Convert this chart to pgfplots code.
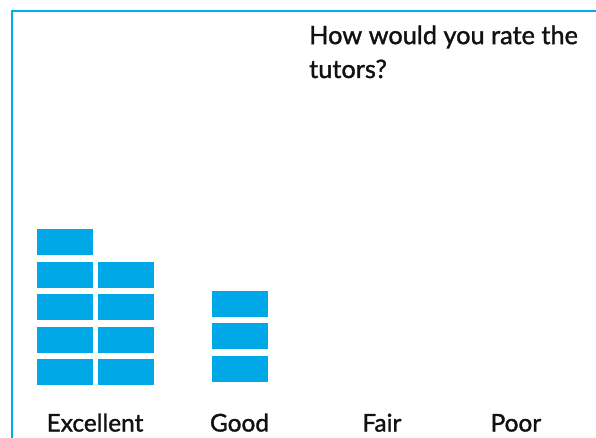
\documentclass[border=0pt]{standalone}
\usepackage{pgfplots}
\pgfplotsset{compat=1.18}
\usepackage{fontspec}
\setmainfont{Lato}[FakeBold=1.4]
\definecolor{frameblue}{HTML}{00AEEF}
\definecolor{blockblue}{HTML}{00A8E8}
\definecolor{textblack}{HTML}{111111}
\pgfdeclareplotmark{block}{%
  \pgfpathrectangle{\pgfpoint{-28bp}{-13bp}}{\pgfpoint{56bp}{26bp}}%
  \pgfusepathqfill}
\begin{document}
\begin{tikzpicture}
\path[use as bounding box] (0,0) rectangle (596bp,438bp);
\clip (0,0) rectangle (596bp,438bp);
\begin{axis}[
  at={(12bp,427bp)}, anchor=north west,
  scale only axis, width=608bp, height=393.5bp,
  xmin=-0.5916, xmax=3.742, ymin=0, ymax=12.108,
  axis line style={draw=none},
  xtick={0,1.03,2.045,3},
  xticklabels={Excellent,Good,Fair,Poor},
  ytick=\empty, major tick length=0pt,
  xticklabel style={font=\fontsize{24.5}{28}\selectfont, text=textblack, anchor=base, yshift=-27bp, inner sep=0pt},
  clip=false,
]
\draw[frameblue, line width=2.8bp] (rel axis cs:0,-0.5) -- (rel axis cs:0,1) -- (rel axis cs:1.5,1);
% Excellent, first column (5 responses)
\addplot[only marks, mark=block, mark options={fill=blockblue, draw=none}] coordinates {
  (-0.214,1) (-0.214,2) (-0.214,3) (-0.214,4) (-0.214,5)
};
% Excellent, second column (4 responses)
\addplot[only marks, mark=block, mark options={fill=blockblue, draw=none}] coordinates {
  (0.224,1) (0.224,2) (0.224,3) (0.224,4)
};
% Good (3 responses)
\addplot[only marks, mark=block, mark options={fill=blockblue, draw=none}] coordinates {
  (1.03,1.1) (1.03,2.1) (1.03,3.1)
};
\end{axis}
\node[anchor=base west, align=left, inner sep=0pt, text=textblack, font=\fontsize{25.4}{34}\selectfont] at (309bp,360bp) {How would you rate the\\tutors?};
\end{tikzpicture}
\end{document}
